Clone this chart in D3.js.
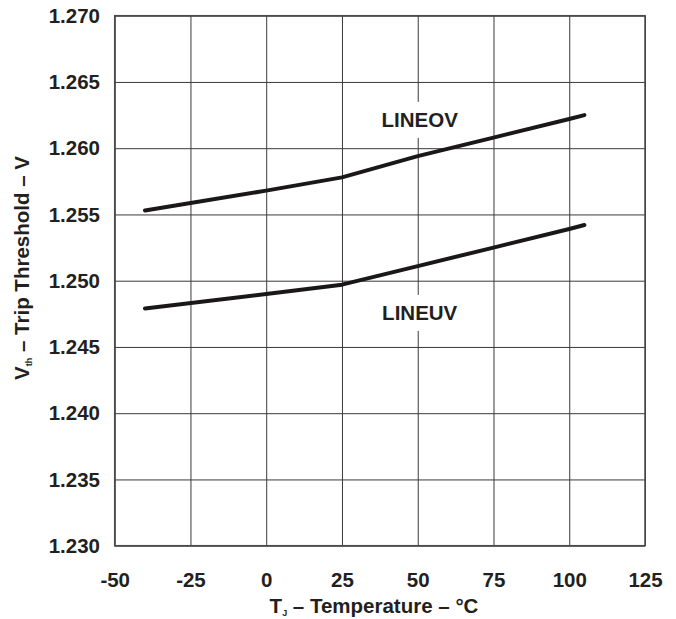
<!DOCTYPE html>
<meta charset="utf-8">
<style>
  body { margin: 0; background: #fff; }
  text { font-family: "Liberation Sans", Arial, sans-serif; font-weight: bold; fill: #231f20; }
</style>
<svg width="676" height="619"></svg>
<script src="https://d3js.org/d3.v7.min.js"></script>
<script>

var temps = [-40, 0, 25, 50, 75, 100, 105];
var lineov = [1.2553, 1.2568, 1.2578, 1.2594, 1.2608, 1.2622, 1.2625];
var lineuv = [1.2479, 1.2490, 1.2497, 1.2511, 1.2525, 1.2539, 1.2542];

var xTicks = [-50, -25, 0, 25, 50, 75, 100, 125];
var yTicks = [1.230, 1.235, 1.240, 1.245, 1.250, 1.255, 1.260, 1.265, 1.270];

var labels = [
  {name: "LINEOV", t: 50, v: 1.26214},
  {name: "LINEUV", t: 50, v: 1.24757}
];

var fs = 20.5;

var svg = d3.select("svg"),
    margin = {top: 15.7, right: 31, bottom: 73.3, left: 114.7},
    width = +svg.attr("width") - margin.left - margin.right,
    height = +svg.attr("height") - margin.top - margin.bottom,
    g = svg.append("g").attr("transform", "translate(" + margin.left + "," + margin.top + ")");

var x = d3.scaleLinear().domain([-50, 125]).range([0, width]);
var y = d3.scaleLinear().domain([1.230, 1.270]).range([height, 0]);

// grid + tick labels
var xAxis = g.append("g")
    .attr("transform", "translate(0," + height + ")")
    .call(d3.axisBottom(x)
      .tickValues(xTicks)
      .tickFormat(function(d) { return String(d); })
      .tickSizeInner(-height)
      .tickSizeOuter(0)
      .tickPadding(26.7));

var yAxis = g.append("g")
    .call(d3.axisLeft(y)
      .tickValues(yTicks)
      .tickFormat(d3.format(".3f"))
      .tickSizeInner(-width)
      .tickSizeOuter(0)
      .tickPadding(14.7));

[xAxis, yAxis].forEach(function(a) {
  a.select(".domain").remove();
  a.selectAll("line").attr("stroke", "#3a3a3a").attr("stroke-width", 1);
  a.selectAll("text").attr("font-size", fs).attr("fill", "#231f20")
    .style("font-family", "'Liberation Sans', Arial, sans-serif").style("font-weight", "bold");
});

g.append("rect")
    .attr("width", width)
    .attr("height", height)
    .attr("fill", "none")
    .attr("stroke", "#4a4a4a")
    .attr("stroke-width", 1.5);

// series
var line = d3.line()
    .x(function(d) { return x(d[0]); })
    .y(function(d) { return y(d[1]); });

[lineov, lineuv].forEach(function(vals) {
  g.append("path")
      .datum(temps.map(function(t, i) { return [t, vals[i]]; }))
      .attr("fill", "none")
      .attr("stroke", "#1a1718")
      .attr("stroke-width", 4)
      .attr("stroke-linejoin", "round")
      .attr("stroke-linecap", "round")
      .attr("d", line);
});

// curve labels with white knock-out behind
labels.forEach(function(l) {
  var cx = x(l.t) + 2, cy = y(l.v);
  g.append("rect")
      .attr("x", cx - 42)
      .attr("y", cy - 18)
      .attr("width", 84)
      .attr("height", 36)
      .attr("fill", "#fff");
  g.append("text")
      .attr("x", cx)
      .attr("y", cy)
      .attr("dy", "0.36em")
      .attr("text-anchor", "middle")
      .attr("font-size", fs)
      .text(l.name);
});

// axis titles
var xt = svg.append("text")
    .attr("x", 374)
    .attr("y", 613)
    .attr("text-anchor", "middle")
    .attr("font-size", fs);
xt.append("tspan").text("T");
xt.append("tspan").attr("font-size", 9).attr("dy", 3).text("J");
xt.append("tspan").attr("dy", -3).text(" \u2013 Temperature \u2013 \u00b0C");

var yt = svg.append("text")
    .attr("transform", "translate(29,268) rotate(-90)")
    .attr("text-anchor", "middle")
    .attr("font-size", fs);
yt.append("tspan").text("V");
yt.append("tspan").attr("font-size", 9).attr("dy", 3).text("th");
yt.append("tspan").attr("dy", -3).text(" \u2013 Trip Threshold \u2013 V");

</script>
